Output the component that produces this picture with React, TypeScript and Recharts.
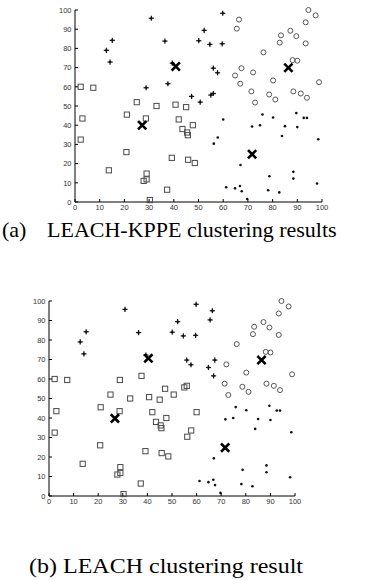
import { ScatterChart, Scatter, XAxis, YAxis } from 'recharts'

type Pt = [number, number]

const axisTicks = [0, 10, 20, 30, 40, 50, 60, 70, 80, 90, 100]

// (a) LEACH-KPPE
const aSquares: Pt[] = [
  [2.3, 60], [7.4, 59.5], [3, 43.5], [2.3, 32.5], [21, 45.5], [25, 52], [33, 50], [28.7, 43.5],
  [40.7, 50.7], [45, 49.4], [42, 43], [47.7, 40], [43.5, 38], [45.4, 36.2], [45.7, 34.8],
  [20.8, 26], [39.2, 23], [45.8, 22], [48.5, 20.3], [13.7, 16.5], [29, 14.8], [29, 11.8],
  [27.8, 11], [37.3, 6.4], [30.3, 1],
]
const aPluses: Pt[] = [
  [30.9, 95.7], [15.1, 84.2], [12.7, 79], [14.2, 72.9], [36.4, 83.8], [50.1, 84], [54.6, 82.1],
  [52.3, 89.4], [59.8, 98.3], [59.6, 82.4], [39.4, 72.3], [37.6, 61.6], [28.8, 59.5], [56, 69.7],
  [57.7, 67.3], [47.2, 55], [50.7, 52], [55, 55.7], [56, 56.5],
]
const aCircles: Pt[] = [
  [94.5, 100], [97.4, 97.2], [66.4, 95], [65.5, 90.3], [93.4, 93.6], [87.2, 89.2], [83.4, 86.8],
  [82.9, 83], [89.6, 86.4], [93.4, 82.6], [76.3, 77.9], [88.1, 73.9], [90, 73.6], [67.4, 69.7],
  [64.8, 65.9], [72.1, 67.5], [66.9, 61.6], [80.2, 63.3], [98.8, 62.4], [71.4, 57.6], [72.9, 51.8],
  [78.6, 56], [81.1, 53.4], [88.4, 57.6], [91.4, 56.5], [93.9, 54.3],
]
const aDots: Pt[] = [
  [75.9, 45.6], [80.2, 44], [89.6, 46.3], [92.6, 43.8], [93.9, 43.8], [71.7, 39.3], [74.9, 40],
  [85, 39.5], [90, 39], [83.8, 34.4], [60, 43], [57.8, 33.6], [56.2, 30.4], [98.5, 32.7],
  [67, 19.3], [78.7, 13.4], [88.4, 15.7], [88.4, 12.2], [98, 9.6], [61.2, 7.7], [64.8, 7.1],
  [66.8, 8.3], [67.5, 5.6], [69.7, 1.6], [78.2, 6.1], [82.7, 5],
]
const aHeads: Pt[] = [[27.2, 40], [40.8, 70.6], [86.4, 69.9], [71.7, 24.9]]

// (b) LEACH
const bSquares: Pt[] = [
  [2.3, 60], [7.4, 59.5], [3, 43.5], [2.3, 32.5], [21, 45.5], [25, 52], [33, 50], [28.7, 43.5],
  [40.7, 50.7], [45, 49.4], [42, 43], [47.7, 40], [43.5, 38], [45.4, 36.2], [45.7, 34.8],
  [20.8, 26], [39.2, 23], [45.8, 22], [48.5, 20.3], [13.7, 16.5], [29, 14.8], [29, 11.8],
  [27.8, 11], [37.3, 6.4], [30.3, 1], [28.8, 59.5], [37.6, 61.6], [47.2, 55], [50.7, 52],
  [55, 55.7], [56, 56.5], [60, 43], [57.8, 33.6], [56.2, 30.4],
]
const bPluses: Pt[] = [
  [30.9, 95.7], [15.1, 84.2], [12.7, 79], [14.2, 72.9], [36.4, 83.8], [50.1, 84], [54.6, 82.1],
  [52.3, 89.4], [59.8, 98.3], [59.6, 82.4], [39.4, 72.3], [56, 69.7], [57.7, 67.3],
  [66.4, 95], [65.5, 90.3], [64.8, 65.9], [67.4, 69.7], [66.9, 61.6],
]
const bCircles: Pt[] = [
  [94.5, 100], [97.4, 97.2], [93.4, 93.6], [87.2, 89.2], [83.4, 86.8], [82.9, 83], [89.6, 86.4],
  [93.4, 82.6], [76.3, 77.9], [88.1, 73.9], [90, 73.6], [72.1, 67.5], [80.2, 63.3], [98.8, 62.4],
  [71.4, 57.6], [72.9, 51.8], [78.6, 56], [81.1, 53.4], [88.4, 57.6], [91.4, 56.5], [93.9, 54.3],
]
const bDots: Pt[] = [
  [75.9, 45.6], [80.2, 44], [89.6, 46.3], [92.6, 43.8], [93.9, 43.8], [71.7, 39.3], [74.9, 40],
  [85, 39.5], [90, 39], [83.8, 34.4], [98.5, 32.7], [67, 19.3], [78.7, 13.4], [88.4, 15.7],
  [88.4, 12.2], [98, 9.6], [61.2, 7.7], [64.8, 7.1], [66.8, 8.3], [67.5, 5.6], [69.7, 1.6],
  [78.2, 6.1], [82.7, 5],
]
const bHeads: Pt[] = [[26.8, 39.8], [40.4, 70.6], [86.4, 69.7], [71.6, 24.8]]

const toPts = (arr: Pt[]) => arr.map(([x, y]) => ({ x, y }))

const tickFont = '"Liberation Sans", Arial, sans-serif'

const Square = (p: any) => (
  <rect x={p.cx - 2.6} y={p.cy - 2.6} width={5.2} height={5.2} fill="none" stroke="#4a4a4a" strokeWidth={1} />
)
const Plus = (p: any) => (
  <g stroke="#111" strokeWidth={1.2}>
    <line x1={p.cx - 2.6} x2={p.cx + 2.6} y1={p.cy} y2={p.cy} />
    <line x1={p.cx} x2={p.cx} y1={p.cy - 2.6} y2={p.cy + 2.6} />
    <rect x={p.cx - 1} y={p.cy - 1} width={2} height={2} fill="#111" stroke="none" />
  </g>
)
const Circle = (p: any) => <circle cx={p.cx} cy={p.cy} r={2.5} fill="none" stroke="#555" strokeWidth={1} />
const Dot = (p: any) => <circle cx={p.cx} cy={p.cy} r={1.3} fill="#111" />
const Head = (p: any) => (
  <g stroke="#000" strokeWidth={2.6} strokeLinecap="square">
    <line x1={p.cx - 3.2} x2={p.cx + 3.2} y1={p.cy - 3.2} y2={p.cy + 3.2} />
    <line x1={p.cx - 3.2} x2={p.cx + 3.2} y1={p.cy + 3.2} y2={p.cy - 3.2} />
  </g>
)

const XTick = ({ x, y, payload }: any) => (
  <g>
    <line x1={x} x2={x} y1={y} y2={y - 3} stroke="#000" />
    <text x={x} y={y + 7.5} textAnchor="middle" fontSize={7.5} fill="#333" fontFamily={tickFont}>
      {payload.value}
    </text>
  </g>
)
const YTick = ({ x, y, payload }: any) => (
  <g>
    <line x1={x} x2={x + 3} y1={y} y2={y} stroke="#000" />
    <text x={x - 3.5} y={y + 2.7} textAnchor="end" fontSize={7.5} fill="#333" fontFamily={tickFont}>
      {payload.value}
    </text>
  </g>
)

interface PlotProps {
  top: number
  height: number
  margin: { top: number; right: number; left: number; bottom: number }
  yWidth: number
  squares: Pt[]
  pluses: Pt[]
  circles: Pt[]
  dots: Pt[]
  heads: Pt[]
}

function Plot({ top, height, margin, yWidth, squares, pluses, circles, dots, heads }: PlotProps) {
  return (
    <div style={{ position: 'absolute', left: 0, top }}>
      <ScatterChart width={372} height={height} margin={margin}>
        <XAxis
          type="number"
          dataKey="x"
          domain={[0, 100]}
          ticks={axisTicks}
          interval={0}
          height={20}
          tickSize={0}
          tickMargin={0}
          tickLine={false}
          tick={XTick}
          axisLine={{ stroke: '#000' }}
        />
        <YAxis
          type="number"
          dataKey="y"
          domain={[0, 100]}
          ticks={axisTicks}
          interval={0}
          width={yWidth}
          tickSize={0}
          tickMargin={0}
          tickLine={false}
          tick={YTick}
          axisLine={{ stroke: '#000' }}
        />
        <Scatter data={toPts(squares)} shape={Square} isAnimationActive={false} />
        <Scatter data={toPts(circles)} shape={Circle} isAnimationActive={false} />
        <Scatter data={toPts(dots)} shape={Dot} isAnimationActive={false} />
        <Scatter data={toPts(pluses)} shape={Plus} isAnimationActive={false} />
        <Scatter data={toPts(heads)} shape={Head} isAnimationActive={false} />
      </ScatterChart>
    </div>
  )
}

const captionFont = '"Liberation Serif", "Times New Roman", serif'

export default function App() {
  return (
    <div style={{ position: 'absolute', left: 0, top: 0, width: 372, height: 580, background: '#fff' }}>
      <Plot
        top={0}
        height={222}
        margin={{ top: 10, right: 50, left: 0, bottom: 0 }}
        yWidth={75}
        squares={aSquares}
        pluses={aPluses}
        circles={aCircles}
        dots={aDots}
        heads={aHeads}
      />
      <Plot
        top={290}
        height={226}
        margin={{ top: 11, right: 77, left: 0, bottom: 0 }}
        yWidth={49}
        squares={bSquares}
        pluses={bPluses}
        circles={bCircles}
        dots={bDots}
        heads={bHeads}
      />
      <svg width={372} height={580} style={{ position: 'absolute', left: 0, top: 0, pointerEvents: 'none' }}>
        <text x={2} y={237} fontSize={22} fontFamily={captionFont} fill="#000">(a)</text>
        <text x={47} y={237} fontSize={22} fontFamily={captionFont} fill="#000">LEACH-KPPE clustering results</text>
        <text x={29} y={573} fontSize={22} fontFamily={captionFont} fill="#000" textLength={274} lengthAdjust="spacingAndGlyphs">
          (b) LEACH clustering result
        </text>
      </svg>
    </div>
  )
}
